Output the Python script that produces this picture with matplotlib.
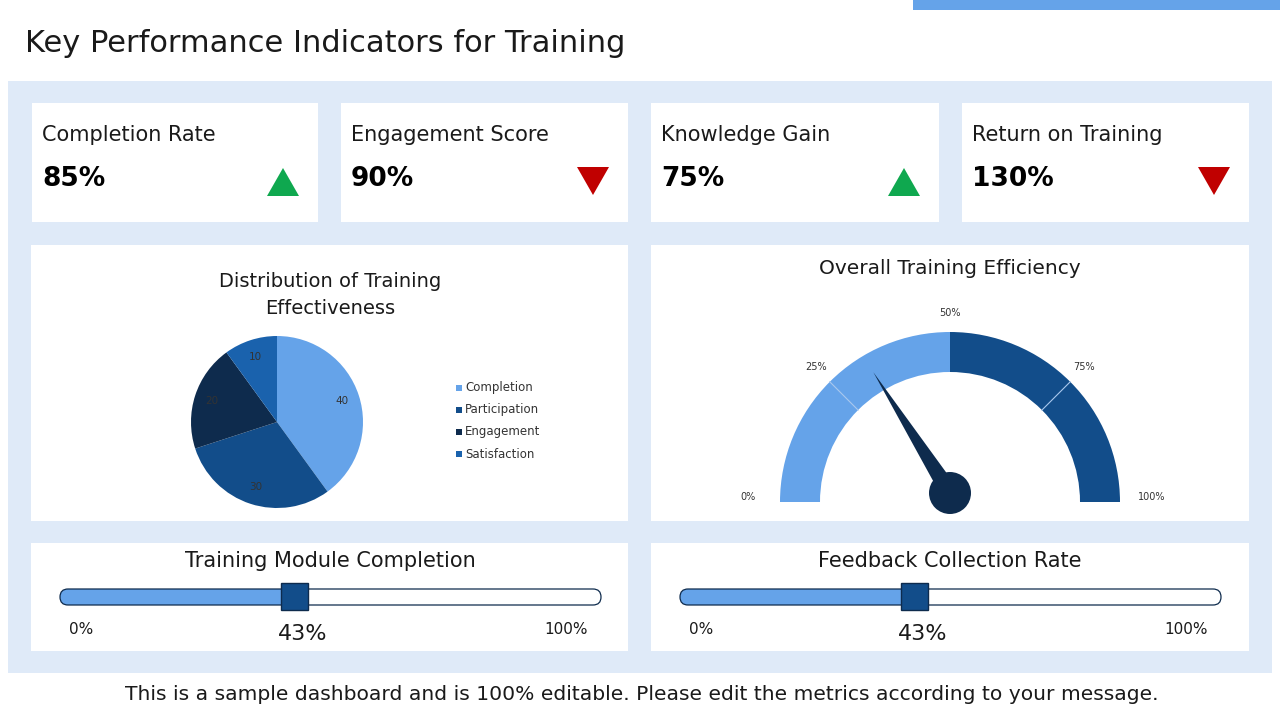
import matplotlib
matplotlib.use("Agg")
import matplotlib.pyplot as plt
from matplotlib.patches import Rectangle, FancyBboxPatch, Wedge, Circle, Polygon
import numpy as np

plt.rcParams['font.family'] = ['DejaVu Sans']

# data
kpi_names = ["Completion Rate", "Engagement Score", "Knowledge Gain", "Return on Training"]
kpi_values = ["85%", "90%", "75%", "130%"]
kpi_trend = ["up", "down", "up", "down"]

pie_labels = ["Completion", "Participation", "Engagement", "Satisfaction"]
pie_values = [40, 30, 20, 10]

gauge_bands = [50, 50]
gauge_ticks = [0, 25, 50, 75, 100]
gauge_value = 32

slider_titles = ["Training Module Completion", "Feedback Collection Rate"]
slider_values = [43, 43]

LIGHT = "#65A3E9"
DARK = "#124D8A"
NAVY = "#0E2B4D"
SAT = "#1A62AD"
BG = "#DFEAF8"
TXT = "#1a1a1a"
pie_colors = [LIGHT, DARK, NAVY, SAT]

fig = plt.figure(figsize=(12.8, 7.2), dpi=100)
ax = fig.add_axes([0, 0, 1, 1])
ax.set_xlim(0, 1280)
ax.set_ylim(0, 720)
ax.axis("off")

def Y(y):
    return 720 - y

def box(x0, y0, x1, y1, color):
    ax.add_patch(Rectangle((x0, Y(y1)), x1 - x0, y1 - y0, facecolor=color, edgecolor="none"))

# header
box(913, 0, 1280, 10, LIGHT)
ax.text(25, Y(44), "Key Performance Indicators for Training", fontsize=22, color=TXT, va="center", ha="left")
box(8, 81, 1272, 673, BG)

# KPI cards
card_x = [(32, 318), (341, 628), (651, 939), (962, 1249)]
for (x0, x1), name, val, tr in zip(card_x, kpi_names, kpi_values, kpi_trend):
    box(x0, 103, x1, 222, "white")
    ax.text(x0 + 10, Y(135), name, fontsize=15, color=TXT, va="center")
    ax.text(x0 + 10, Y(179), val, fontsize=19, fontweight="bold", color="black", va="center")
    cx = x1 - 35
    if tr == "up":
        pts = [(cx - 16, Y(196)), (cx + 16, Y(196)), (cx, Y(168))]
        col = "#0FA84F"
    else:
        pts = [(cx - 16, Y(167)), (cx + 16, Y(167)), (cx, Y(195))]
        col = "#C00000"
    ax.add_patch(Polygon(pts, closed=True, facecolor=col, edgecolor="none"))

# middle panels
box(31, 245, 628, 521, "white")
box(651, 245, 1249, 521, "white")
box(31, 543, 628, 651, "white")
box(651, 543, 1249, 651, "white")

# pie
ax.text(330, Y(295), "Distribution of Training\nEffectiveness", fontsize=14, color=TXT,
        ha="center", va="center", linespacing=1.5)
pax = fig.add_axes([(277 - 86) / 1280, (720 - 422 - 86) / 720, 172 / 1280, 172 / 720])
wedges, texts = pax.pie(pie_values, colors=pie_colors, startangle=90, counterclock=False,
                        labels=[str(v) for v in pie_values], labeldistance=0.8,
                        wedgeprops=dict(linewidth=0),
                        textprops=dict(fontsize=7.5, color="#333333"))
for t in texts:
    t.set_ha("center")
    t.set_va("center")
pax.set_xlim(-1, 1)
pax.set_ylim(-1, 1)
pax.set_aspect("equal")
for i, (lab, col) in enumerate(zip(pie_labels, pie_colors)):
    yy = 388 + 22 * i
    ax.add_patch(Rectangle((456, Y(yy) - 3), 6, 6, facecolor=col, edgecolor="none"))
    ax.text(465, Y(yy), lab, fontsize=8.5, color="#333333", va="center")

# gauge
ax.text(950, Y(269), "Overall Training Efficiency", fontsize=14.5, color=TXT, ha="center", va="center")
gcx, gcy, r_out, r_in = 950, Y(502), 170, 130
start = 0
for v, col in zip(gauge_bands, [LIGHT, DARK]):
    a1 = 180 - start * 1.8
    a2 = 180 - (start + v) * 1.8
    ax.add_patch(Wedge((gcx, gcy), r_out, a2, a1, width=r_out - r_in, facecolor=col, edgecolor="none"))
    start += v
for t in [25, 75]:
    a = np.radians(180 - t * 1.8)
    ax.plot([gcx + r_in * np.cos(a), gcx + r_out * np.cos(a)],
            [gcy + r_in * np.sin(a), gcy + r_out * np.sin(a)], color="#a9c8ee", lw=0.8)
for t in gauge_ticks:
    a = np.radians(180 - t * 1.8)
    rr = 189 + 13 * np.cos(a) ** 8
    ax.text(gcx + rr * np.cos(a), gcy + rr * np.sin(a) + 5 * np.cos(a) ** 8, f"{t}%",
            fontsize=7, color="#333333", ha="center", va="center")
hx, hy = 950, Y(493)
a = np.radians(180 - gauge_value * 1.8)
L = 143
tip = (hx + L * np.cos(a), hy + L * np.sin(a))
perp = np.array([-np.sin(a), np.cos(a)])
b1 = (hx + 9 * perp[0], hy + 9 * perp[1])
b2 = (hx - 9 * perp[0], hy - 9 * perp[1])
ax.add_patch(Polygon([b1, tip, b2], closed=True, facecolor=NAVY, edgecolor="none"))
ax.add_patch(Circle((hx, hy), 21, facecolor=NAVY, edgecolor="none"))

# sliders
for x0, title, val in zip([60, 680], slider_titles, slider_values):
    x1 = x0 + 541
    ax.text(x0 + 270, Y(561), title, fontsize=15, color=TXT, ha="center", va="center")
    hxp = x0 + (x1 - x0) * val / 100
    ax.add_patch(FancyBboxPatch((x0, Y(605)), hxp - x0, 16,
                                boxstyle="round,pad=0,rounding_size=8",
                                facecolor=LIGHT, edgecolor="none"))
    ax.add_patch(FancyBboxPatch((x0, Y(605)), x1 - x0, 16,
                                boxstyle="round,pad=0,rounding_size=8",
                                facecolor="none", edgecolor=NAVY, lw=0.9))
    ax.add_patch(Rectangle((hxp - 12, Y(610)), 27, 27, facecolor=DARK, edgecolor=NAVY, lw=1.0))
    ax.text(x0 + 21, Y(629), "0%", fontsize=11, color=TXT, ha="center", va="center")
    ax.text(x1 - 35, Y(629), "100%", fontsize=11, color=TXT, ha="center", va="center")
    ax.text(hxp + 10, Y(634), f"{val}%", fontsize=16, color=TXT, ha="center", va="center")

# footer
ax.text(642, Y(695), "This is a sample dashboard and is 100% editable. Please edit the metrics according to your message.",
        fontsize=14.6, color=TXT, ha="center", va="center")

fig.savefig("out.png", dpi=100, facecolor="white")
